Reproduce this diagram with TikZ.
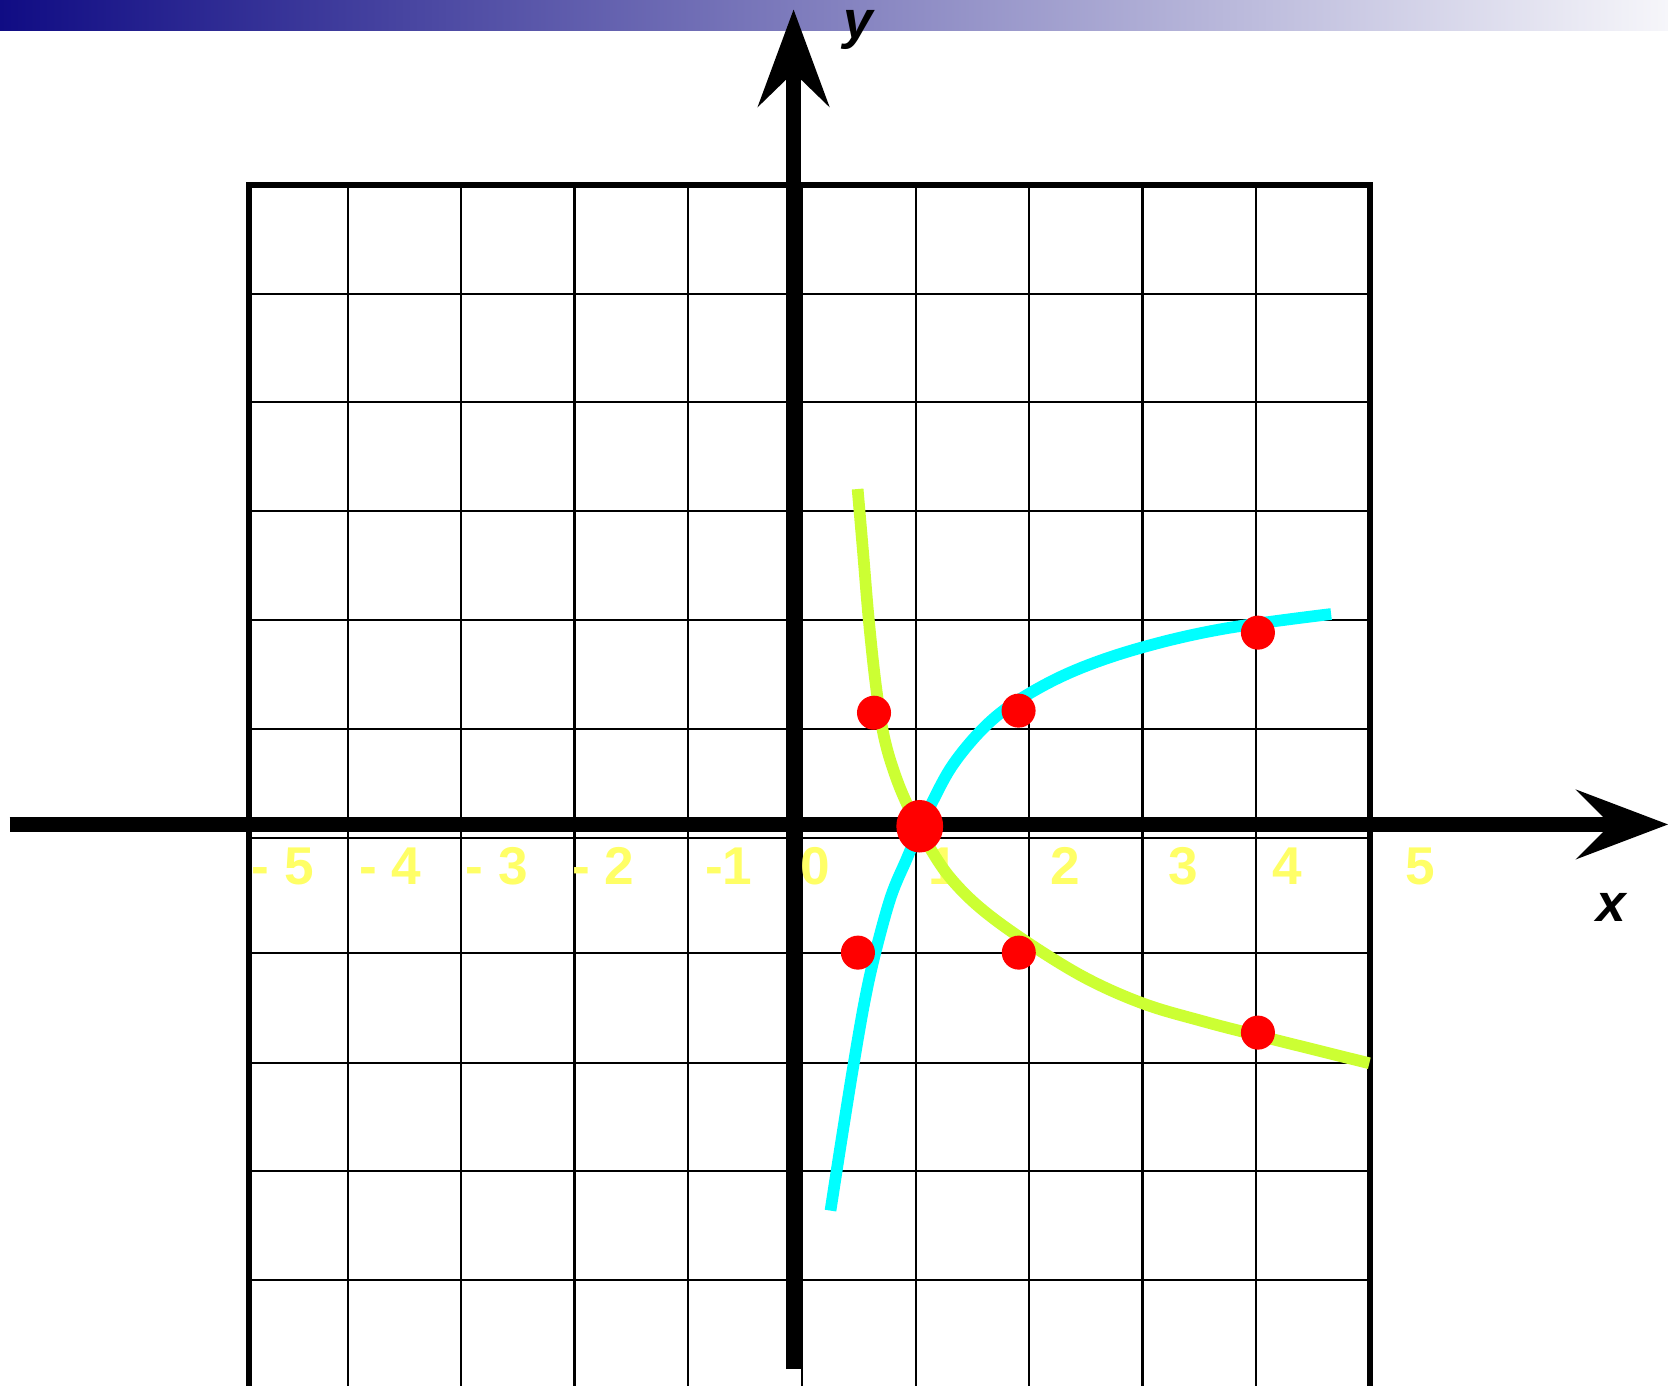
\documentclass[tikz,border=0pt]{standalone}
\usepackage{fontspec}
\setmainfont{Liberation Sans}
\definecolor{navy}{RGB}{16,12,132}
\definecolor{barend}{RGB}{246,246,250}
\definecolor{labyellow}{RGB}{255,255,102}
\definecolor{cyanc}{RGB}{0,255,255}
\definecolor{greenc}{RGB}{204,255,51}
\definecolor{dotred}{RGB}{255,0,0}
\begin{document}
\begin{tikzpicture}[x=1pt,y=-1pt,
  gridline/.style={line width=2pt, black},
  border/.style={line width=5.5pt, black, line join=miter},
  axisline/.style={line width=14pt, black},
  lab/.style={text=labyellow, font=\fontsize{50}{60}\selectfont\bfseries, inner sep=0pt, anchor=base},
  axlab/.style={text=black, font=\fontsize{50}{60}\selectfont\bfseries\itshape, inner sep=0pt, anchor=base},
  logcurve/.style={line width=11pt},
  dot/.style={fill=dotred}]
\useasboundingbox (0,0) rectangle (1568,1302);
\fill[white] (0,0) rectangle (1568,1302);
\shade[left color=navy, right color=barend] (0,0) rectangle (1568,29);
% grid
\foreach \y in {276,378,480,583,685,788,896,999,1101,1203}
  \draw[gridline] (234,\y) -- (1288,\y);
\foreach \x in {327,433,540,647,754,861,967.5,1074,1181}
  \draw[gridline] (\x,174) -- (\x,1310);
\draw[border] (234,1310) -- (234,174) -- (1288,174) -- (1288,1310);
% axes
\coordinate (xl) at (9,775);
\coordinate (xr) at (1530,775);
\coordinate (xtip) at (1568,775);
\coordinate (yb) at (746,1287);
\coordinate (yt) at (746,55);
\coordinate (ytip) at (746,9);
\draw[axisline] (xl) -- (xr);
\fill (xtip) -- (1481,742) -- (1514,775) -- (1481,808) -- cycle;
\draw[axisline] (yb) -- (yt);
\fill (ytip) -- (780,101) -- (746,68) -- (712,101) -- cycle;
% labels
\node[lab] (m5) at (266,831) {- 5};
\node[lab] (m4) at (367,831) {- 4};
\node[lab] (m3) at (467,831) {- 3};
\node[lab] (m2) at (567,831) {- 2};
\node[lab] (m1) at (685,831) {-1};
\node[lab] (z0) at (766,831) {0};
\node[lab] (p1) at (887,831) {1};
\node[lab] (p2) at (1001.5,831) {2};
\node[lab] (p3) at (1112,831) {3};
\node[lab] (p4) at (1210,831) {4};
\node[lab] (p5) at (1335,831) {5};
\node[axlab] (xlab) at (1515,866) {x};
\node[axlab] (ylab) at (807,36) {y};
% curves
\draw[logcurve, cyanc] plot[smooth, tension=0.6] coordinates {
  (780.7,1138.0) (791.5,1068.5) (802.5,1000) (813,940) (823,895)
  (837.5,842.9) (851.9,808.4) (862,785) (875.8,755.1) (896.7,717.5)
  (928,681) (962.7,654.9) (1011.5,629.8) (1074,608.5) (1150.6,591) (1251.3,577.2)};
\draw[logcurve, greenc] plot[smooth, tension=0.6] coordinates {
  (806.2,459.7) (811.4,520.1) (816.7,582.8) (823.5,645.5) (831,692.5)
  (842,730) (856,763) (875.3,799) (895,827.2) (923.8,855.4) (967,886.7)
  (1021,919.6) (1075,943.5) (1129,959.5) (1182.9,973.5) (1287.2,999.5)};
% dots
\fill[dot] (806.5,895.5) circle[radius=16pt];
\fill[dot] (957.5,668) circle[radius=16pt];
\fill[dot] (1182.5,594.7) circle[radius=16pt];
\fill[dot] (821.6,670) circle[radius=16pt];
\fill[dot] (957.7,895.5) circle[radius=16pt];
\fill[dot] (1182.5,970.7) circle[radius=16pt];
\fill[dot] (864.6,776.7) ellipse[x radius=22pt, y radius=24.7pt];
\end{tikzpicture}
\end{document}
